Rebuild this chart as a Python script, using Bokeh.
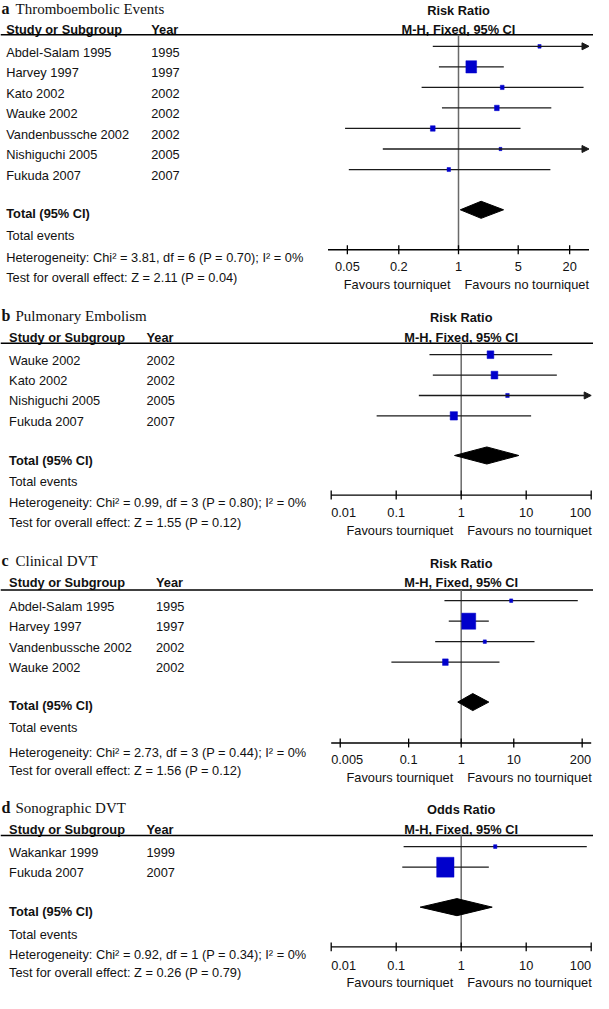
import math
from bokeh.plotting import figure
from bokeh.models import Range1d, LogScale, ColumnDataSource, Arrow, NormalHead
from bokeh.embed import file_html
from bokeh.resources import INLINE
from bokeh.core.properties import value

# ---------------- data ----------------
a_studies = ["Abdel-Salam 1995", "Harvey 1997", "Kato 2002", "Wauke 2002",
             "Vandenbussche 2002", "Nishiguchi 2005", "Fukuda 2007"]
a_years = ["1995", "1997", "2002", "2002", "2002", "2005", "2007"]
a_est = [8.88, 1.41, 3.25, 2.81, 0.50, 3.10, 0.77]
a_lo = [0.50, 0.59, 0.37, 0.64, 0.047, 0.13, 0.052]
a_hi = [165, 3.39, 29.1, 12.2, 5.32, 74, 11.9]
a_wt = [5, 56, 7, 11, 11, 4, 6]
a_total = [1.84, 1.05, 3.37]
a_ticks = [0.05, 0.2, 1, 5, 20]
a_tick_labels = ["0.05", "0.2", "1", "5", "20"]
a_het = "Heterogeneity: Chi\u00b2 = 3.81, df = 6 (P = 0.70); I\u00b2 = 0%"
a_test = "Test for overall effect: Z = 2.11 (P = 0.04)"

b_studies = ["Wauke 2002", "Kato 2002", "Nishiguchi 2005", "Fukuda 2007"]
b_years = ["2002", "2002", "2005", "2007"]
b_est = [2.82, 3.25, 5.15, 0.77]
b_lo = [0.325, 0.366, 0.223, 0.050]
b_hi = [25.1, 29.6, 119, 11.9]
b_wt = [29, 29, 8, 34]
b_total = [2.48, 0.79, 7.69]
b_ticks = [0.01, 0.1, 1, 10, 100]
b_tick_labels = ["0.01", "0.1", "1", "10", "100"]
b_het = "Heterogeneity: Chi\u00b2 = 0.99, df = 3 (P = 0.80); I\u00b2 = 0%"
b_test = "Test for overall effect: Z = 1.55 (P = 0.12)"

c_studies = ["Abdel-Salam 1995", "Harvey 1997", "Vandenbussche 2002", "Wauke 2002"]
c_years = ["1995", "1997", "2002", "2002"]
c_est = [8.93, 1.39, 2.81, 0.50]
c_lo = [0.48, 0.58, 0.32, 0.047]
c_hi = [165, 3.35, 24.8, 5.35]
c_wt = [4, 79, 4, 13]
c_total = [1.66, 0.86, 3.35]
c_ticks = [0.005, 0.1, 1, 10, 200]
c_tick_labels = ["0.005", "0.1", "1", "10", "200"]
c_het = "Heterogeneity: Chi\u00b2 = 2.73, df = 3 (P = 0.44); I\u00b2 = 0%"
c_test = "Test for overall effect: Z = 1.56 (P = 0.12)"

d_studies = ["Wakankar 1999", "Fukuda 2007"]
d_years = ["1999", "2007"]
d_est = [3.34, 0.57]
d_lo = [0.13, 0.124]
d_hi = [85.5, 2.66]
d_wt = [3.5, 96.5]
d_total = [0.86, 0.234, 3.0]
d_ticks = [0.01, 0.1, 1, 10, 100]
d_tick_labels = ["0.01", "0.1", "1", "10", "100"]
d_het = "Heterogeneity: Chi\u00b2 = 0.92, df = 1 (P = 0.34); I\u00b2 = 0%"
d_test = "Test for overall effect: Z = 0.26 (P = 0.79)"

axis_limits = [33.7, 100, 297, 100]

# ---------------- layout (reference pixel space) ----------------
W, H = 593, 993
X_LO, X_HI = 6, 599
Y_MAX = 1012

SANS = value("Liberation Sans")
SERIF = value("Liberation Serif")
FS = value("12.8px")
TXT = "#111111"
CHAR_W = 0.556 * 12.8  # approx. digit width on screen, for tick-label clamping

p = figure(width=W, height=H, output_backend="svg", toolbar_location=None,
           x_range=Range1d(X_LO, X_HI), y_range=Range1d(Y_MAX, 0),
           x_axis_location=None, y_axis_location=None, min_border=0,
           outline_line_color=None, tools="")
p.grid.visible = False
p.background_fill_color = "white"
p.border_fill_color = "white"

panels = [
    dict(key="a", letter="a", title="Thromboembolic Events", measure="Risk Ratio",
         studies=a_studies, years=a_years, est=a_est, lo=a_lo, hi=a_hi, wt=a_wt,
         total=a_total, ticks=a_ticks, tl=a_tick_labels, het=a_het, test=a_test,
         lim=axis_limits[0],
         L=dict(cx=464, hw=130.5, title_y=8, measure_y=9.8, head_y=30, hline_y=35,
                row0=46.7, step=20.93, toff=6, total_y=216.7, dia_y=213.3,
                events_y=240, axis_y=254, het_y=261.7, test_y=282.3, tick_y=271,
                fav_y=289, col1=11.7, col2=156.7, box=1.43)),
    dict(key="b", letter="b", title="Pulmonary Embolism", measure="Risk Ratio",
         studies=b_studies, years=b_years, est=b_est, lo=b_lo, hi=b_hi, wt=b_wt,
         total=b_total, ticks=b_ticks, tl=b_tick_labels, het=b_het, test=b_test,
         lim=axis_limits[1],
         L=dict(cx=466.7, hw=130, title_y=320.7, measure_y=322.7, head_y=343.3,
                hline_y=349.3, row0=361, step=20.77, toff=5.5, total_y=468.3,
                dia_y=463.7, events_y=490, axis_y=504, het_y=511.7, test_y=532.3,
                tick_y=521.7, fav_y=540, col1=14.6, col2=152, box=1.25)),
    dict(key="c", letter="c", title="Clinical DVT", measure="Risk Ratio",
         studies=c_studies, years=c_years, est=c_est, lo=c_lo, hi=c_hi, wt=c_wt,
         total=c_total, ticks=c_ticks, tl=c_tick_labels, het=c_het, test=c_test,
         lim=axis_limits[2],
         L=dict(cx=466.7, hw=130, title_y=570.7, measure_y=573.3, head_y=593.3,
                hline_y=600.7, row0=611.7, step=20.87, toff=5.5, total_y=718.3,
                dia_y=715, events_y=740.7, axis_y=756.7, het_y=766, test_y=784.3,
                tick_y=773.3, fav_y=791.7, col1=14.6, col2=161.5, box=1.575)),
    dict(key="d", letter="d", title="Sonographic DVT", measure="Odds Ratio",
         studies=d_studies, years=d_years, est=d_est, lo=d_lo, hi=d_hi, wt=d_wt,
         total=d_total, ticks=d_ticks, tl=d_tick_labels, het=d_het, test=d_test,
         lim=axis_limits[3],
         L=dict(cx=466.7, hw=130, title_y=822.7, measure_y=824, head_y=845,
                hline_y=851, row0=862.3, step=21, toff=5.5, total_y=928.3,
                dia_y=924, events_y=951.7, axis_y=964.5, het_y=972.7, test_y=991,
                tick_y=983, fav_y=1000.5, col1=14.6, col2=152, box=1.76)),
]

extra_ranges = {}
extra_scales = {}
for pn in panels:
    L = pn["L"]
    ppd = L["hw"] / math.log10(pn["lim"])
    L["ppd"] = ppd
    extra_ranges[pn["key"]] = Range1d(10 ** ((X_LO - L["cx"]) / ppd),
                                      10 ** ((X_HI - L["cx"]) / ppd))
    extra_scales[pn["key"]] = LogScale()
p.extra_x_ranges = extra_ranges
p.extra_x_scales = extra_scales


def txt(x, y, s, bold=False, align="left", font=SANS, size=FS, rng=None, xoff=0):
    kw = dict(x=x, y=y, text=s, text_align=align, text_baseline="middle",
              text_font=font, text_font_size=size, text_color=TXT,
              text_font_style="bold" if bold else "normal", x_offset=xoff)
    if rng:
        kw["x_range_name"] = rng
    p.text(**kw)


for pn in panels:
    L = pn["L"]
    k = pn["key"]
    lim = pn["lim"]
    n = len(pn["studies"])
    line_y = [L["row0"] + i * L["step"] for i in range(n)]
    text_y = [y + L["toff"] for y in line_y]

    # panel title
    txt([7], [L["title_y"]], [pn["letter"]], bold=True, font=SERIF, size=value("16px"))
    txt([21], [L["title_y"] + 0.5], [pn["title"]], font=SERIF, size=value("15px"))

    # header
    txt([L["col1"]], [L["head_y"]], ["Study or Subgroup"], bold=True)
    txt([L["col2"]], [L["head_y"]], ["Year"], bold=True)
    txt([1], [L["measure_y"]], [pn["measure"]], bold=True, align="center", rng=k)
    txt([1], [L["head_y"]], ["M-H, Fixed, 95% CI"], bold=True, align="center", rng=k)
    p.segment(x0=[X_LO], x1=[X_HI], y0=[L["hline_y"]], y1=[L["hline_y"]],
              line_color="black", line_width=1.5)

    # study rows
    txt([L["col1"]] * n, text_y, pn["studies"])
    txt([L["col2"]] * n, text_y, pn["years"])

    # footer texts
    txt([L["col1"]], [L["total_y"]], ["Total (95% CI)"], bold=True)
    txt([L["col1"]], [L["events_y"]], ["Total events"])
    txt([L["col1"]], [L["het_y"]], [pn["het"]])
    txt([L["col1"]], [L["test_y"]], [pn["test"]])

    # reference line at 1
    p.segment(x0=[1], x1=[1], y0=[L["hline_y"]], y1=[L["axis_y"]], x_range_name=k,
              line_color="#6a6a6a", line_width=1.5)

    # confidence intervals
    inside = [i for i in range(n) if pn["hi"][i] <= lim]
    clipped = [i for i in range(n) if pn["hi"][i] > lim]
    p.segment(x0=[pn["lo"][i] for i in inside], x1=[pn["hi"][i] for i in inside],
              y0=[line_y[i] for i in inside], y1=[line_y[i] for i in inside],
              x_range_name=k, line_color="#1a1a1a", line_width=1.3)
    if clipped:
        src = ColumnDataSource(dict(x0=[pn["lo"][i] for i in clipped],
                                    x1=[lim for i in clipped],
                                    y=[line_y[i] for i in clipped]))
        p.add_layout(Arrow(end=NormalHead(size=7, fill_color="#1a1a1a", line_color="#1a1a1a",
                                          line_width=1),
                           x_start="x0", x_end="x1", y_start="y", y_end="y", source=src,
                           x_range_name=k, line_color="#1a1a1a", line_width=1.3))

    # weight squares
    sizes = [L["box"] * math.sqrt(w) for w in pn["wt"]]
    p.rect(x=pn["est"], y=line_y, width=sizes, height=[s * 1.15 for s in sizes],
           width_units="screen", height_units="screen", x_range_name=k,
           fill_color="#0000cc", line_color="#0000cc", line_width=0.5)

    # pooled diamond
    te, tl, th = pn["total"]
    dh = 8.7
    p.patch(x=[tl, te, th, te], y=[L["dia_y"], L["dia_y"] - dh, L["dia_y"], L["dia_y"] + dh],
            x_range_name=k, fill_color="black", line_color="black")

    # axis
    ay = L["axis_y"]
    p.segment(x0=[1 / lim], x1=[lim], y0=[ay], y1=[ay], x_range_name=k,
              line_color="black", line_width=1.3)
    nt = len(pn["ticks"])
    p.segment(x0=pn["ticks"], x1=pn["ticks"], y0=[ay - 4.5] * nt, y1=[ay + 4.5] * nt,
              x_range_name=k, line_color="black", line_width=1.3)
    # tick labels: centred, but kept inside the axis extent
    ax_l, ax_r = L["cx"] - L["hw"], L["cx"] + L["hw"]
    for t, lab in zip(pn["ticks"], pn["tl"]):
        pos = L["cx"] + L["ppd"] * math.log10(t)
        half = 0.5 * CHAR_W * (len(lab) - 0.5 * lab.count("."))
        if pos - half < ax_l:
            txt([1 / lim], [L["tick_y"]], [lab], align="left", rng=k)
        elif pos + half > ax_r:
            txt([lim], [L["tick_y"]], [lab], align="right", rng=k)
        else:
            txt([t], [L["tick_y"]], [lab], align="center", rng=k)
    txt([1], [L["fav_y"]], ["Favours tourniquet"], align="right", rng=k, xoff=-8)
    txt([1], [L["fav_y"]], ["Favours no tourniquet"], align="left", rng=k, xoff=6)

open("out.html", "w").write(file_html(p, INLINE))
